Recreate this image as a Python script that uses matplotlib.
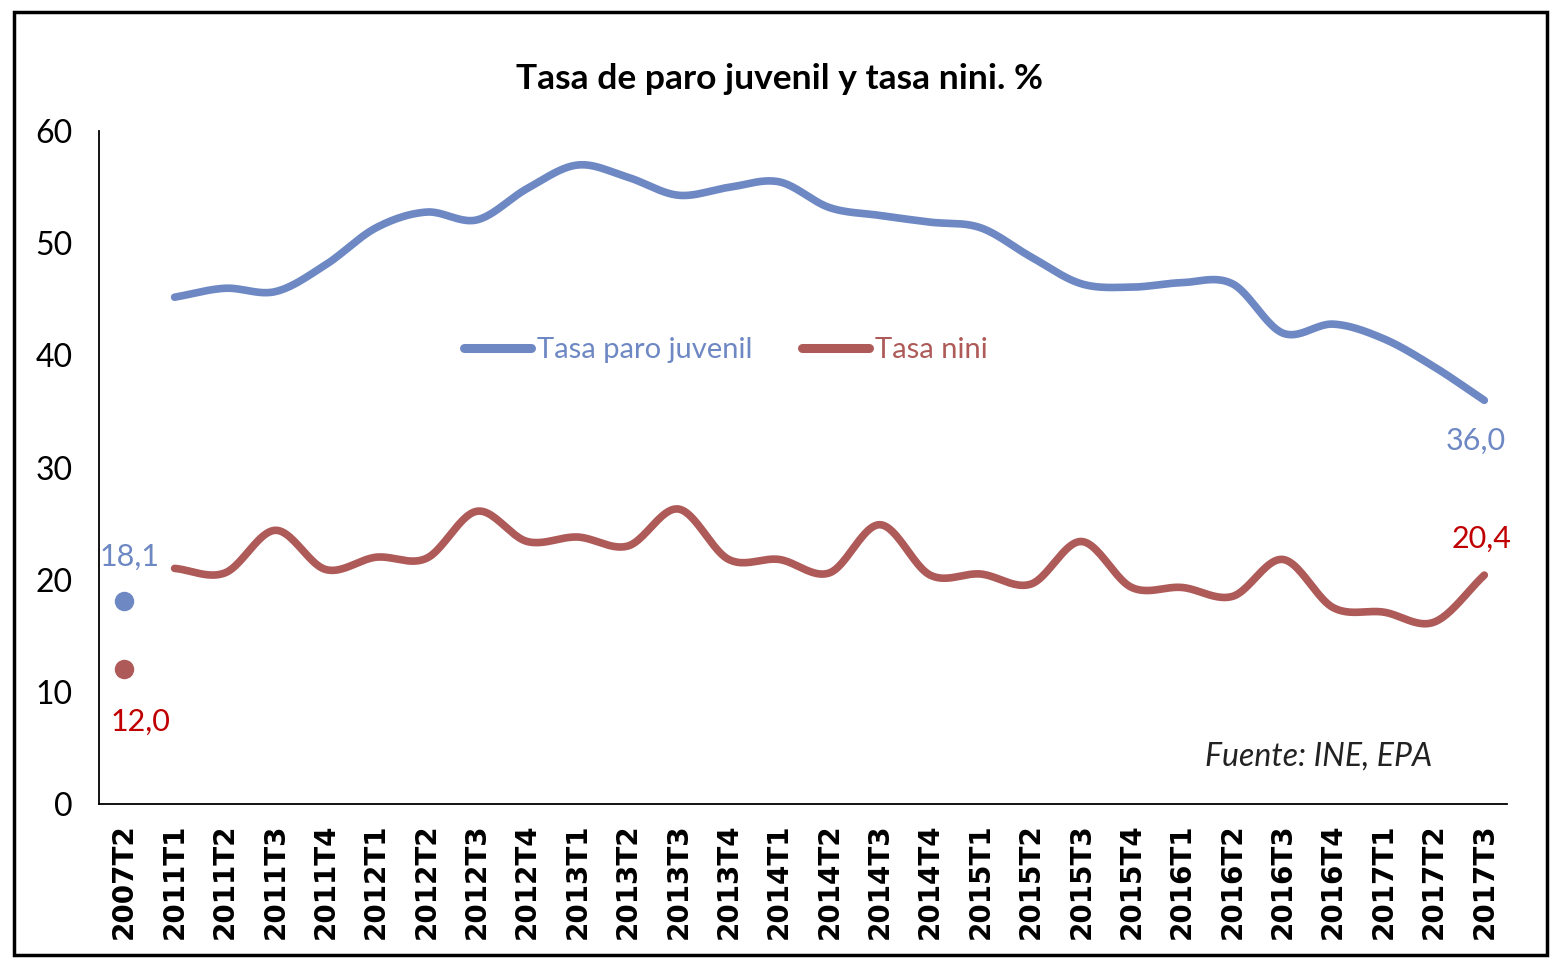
import matplotlib.pyplot as plt
import matplotlib.patches as patches
import numpy as np

# datos
periodos = ['2007T2',
            '2011T1', '2011T2', '2011T3', '2011T4',
            '2012T1', '2012T2', '2012T3', '2012T4',
            '2013T1', '2013T2', '2013T3', '2013T4',
            '2014T1', '2014T2', '2014T3', '2014T4',
            '2015T1', '2015T2', '2015T3', '2015T4',
            '2016T1', '2016T2', '2016T3', '2016T4',
            '2017T1', '2017T2', '2017T3']

paro_juvenil = [18.1,
                45.2, 46.0, 45.7, 48.1,
                51.4, 52.8, 52.1, 54.9,
                57.0, 55.9, 54.3, 55.0,
                55.5, 53.2, 52.5, 51.9,
                51.4, 48.8, 46.4, 46.1,
                46.5, 46.4, 42.0, 42.8,
                41.5, 39.0, 36.0]

tasa_nini = [12.0,
             21.0, 20.6, 24.4, 20.9,
             22.0, 21.9, 26.1, 23.4,
             23.8, 23.0, 26.3, 21.8,
             21.8, 20.6, 24.9, 20.4,
             20.5, 19.6, 23.4, 19.3,
             19.3, 18.5, 21.8, 17.5,
             17.1, 16.2, 20.4]

azul = '#6E88C4'
rojo = '#AE5A58'
rojo_txt = '#C00000'


def suavizar(x, y, n=24):
    # curva tipo Catmull-Rom, como la linea suavizada de Excel
    x = np.asarray(x, float)
    y = np.asarray(y, float)
    px = np.concatenate([[2 * x[0] - x[1]], x, [2 * x[-1] - x[-2]]])
    py = np.concatenate([[2 * y[0] - y[1]], y, [2 * y[-1] - y[-2]]])
    t = np.linspace(0, 1, n, endpoint=False)
    xs, ys = [], []
    for i in range(1, len(px) - 2):
        for p, out in ((px, xs), (py, ys)):
            p0, p1, p2, p3 = p[i - 1], p[i], p[i + 1], p[i + 2]
            out.extend(0.5 * (2 * p1 + (-p0 + p2) * t
                              + (2 * p0 - 5 * p1 + 4 * p2 - p3) * t ** 2
                              + (-p0 + 3 * p1 - 3 * p2 + p3) * t ** 3))
    xs.append(x[-1])
    ys.append(y[-1])
    return np.array(xs), np.array(ys)


fig = plt.figure(figsize=(15.6, 9.66), dpi=100)
ax = fig.add_axes([0.0635, 0.168, 0.9025, 0.696])

x = np.arange(len(periodos))

xs, ys = suavizar(x[1:], paro_juvenil[1:])
ax.plot(xs, ys, color=azul, lw=5.5, solid_capstyle='round', label='Tasa paro juvenil')
xs, ys = suavizar(x[1:], tasa_nini[1:])
ax.plot(xs, ys, color=rojo, lw=5.5, solid_capstyle='round', label='Tasa nini')

ax.plot(x[0], paro_juvenil[0], 'o', color=azul, ms=13)
ax.plot(x[0], tasa_nini[0], 'o', color=rojo, ms=13)

fnarrow = ['Lato', 'DejaVu Sans']

def etiqueta(v):
    return f'{v:.1f}'.replace('.', ',')

ax.annotate(etiqueta(paro_juvenil[0]), (x[0], paro_juvenil[0]), xytext=(4, 32),
            textcoords='offset points', ha='center', va='center',
            color=azul, fontsize=22, family=fnarrow)
ax.annotate(etiqueta(tasa_nini[0]), (x[0], tasa_nini[0]), xytext=(12, -38),
            textcoords='offset points', ha='center', va='center',
            color=rojo_txt, fontsize=22, family=fnarrow)
ax.annotate(etiqueta(paro_juvenil[-1]), (x[-1], paro_juvenil[-1]), xytext=(-6, -29),
            textcoords='offset points', ha='center', va='center',
            color=azul, fontsize=22, family=fnarrow)
ax.annotate(etiqueta(tasa_nini[-1]), (x[-1], tasa_nini[-1]), xytext=(-2, 26),
            textcoords='offset points', ha='center', va='center',
            color=rojo_txt, fontsize=22, family=fnarrow)

ax.set_xlim(-0.5, 27.45)
ax.set_ylim(0, 60)
ax.set_yticks(range(0, 61, 10))
ax.set_xticks(x)
ax.set_xticklabels(periodos, rotation=90, fontsize=20, fontweight='bold',
                   family='DejaVu Sans')
for lab in ax.get_yticklabels():
    lab.set_fontsize(23)
    lab.set_family(fnarrow)
ax.tick_params(axis='both', length=0)
ax.tick_params(axis='y', pad=19)
ax.tick_params(axis='x', pad=14)

for s in ['top', 'right']:
    ax.spines[s].set_visible(False)
ax.spines['left'].set_linewidth(1.3)
ax.spines['bottom'].set_linewidth(1.3)

leg = ax.legend(loc='center', bbox_to_anchor=(0.445, 0.675), ncol=2, frameon=False,
                labelcolor='linecolor', handlelength=2.3, handletextpad=0.2,
                columnspacing=1.7, prop={'family': fnarrow, 'size': 21})
for h in leg.get_lines():
    h.set_linewidth(6.5)

ax.text(0.947, 0.07, 'Fuente: INE, EPA', transform=ax.transAxes, ha='right',
        va='center', style='italic', fontsize=23, family=fnarrow, color='#222222')

fig.text(0.5, 0.918, 'Tasa de paro juvenil y tasa nini. %', ha='center', va='center',
         fontsize=25.5, fontweight='bold', family=fnarrow)

borde = patches.Rectangle((14 / 1560, 1 - 955 / 966), 1533 / 1560, 943 / 966,
                          transform=fig.transFigure, fill=False, lw=2.5, color='black')
fig.patches.append(borde)

fig.savefig('out.png', dpi=100)
